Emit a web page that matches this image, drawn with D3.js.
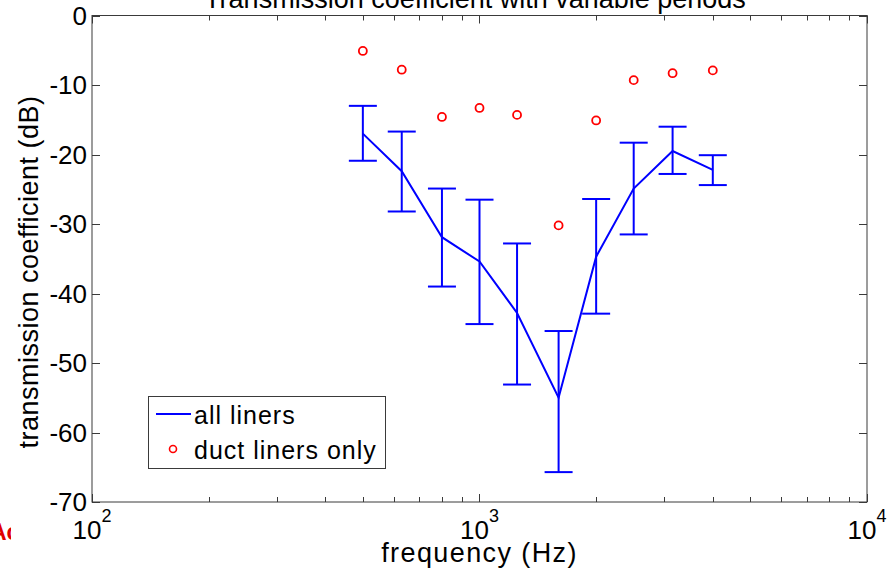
<!DOCTYPE html>
<html>
<head>
<meta charset="utf-8">
<script src="https://cdn.jsdelivr.net/npm/d3@7"></script>
<style>
  body { margin: 0; background: #fff; }
  svg { display: block; font-family: "Liberation Sans", Arial, sans-serif; }
</style>
</head>
<body>
<div id="chart"></div>
<script>
// one-third octave band centres (Hz)
const freqs = [500, 630, 800, 1000, 1250, 1600, 2000, 2500, 3150, 4000];
// all liners: mean and error bar ends (dB)
const allMean = [-17.0, -22.4, -31.9, -35.4, -42.8, -55.0, -34.7, -24.9, -19.5, -22.2];
const allHigh = [-13.0, -16.7, -24.9, -26.5, -32.8, -45.4, -26.4, -18.3, -16.0, -20.1];
const allLow  = [-20.9, -28.2, -39.0, -44.4, -53.1, -65.7, -42.9, -31.5, -22.8, -24.4];
// duct liners only
const ductOnly = [-5.1, -7.8, -14.6, -13.3, -14.3, -30.2, -15.1, -9.3, -8.3, -7.9];

const yTicks = [0, -10, -20, -30, -40, -50, -60, -70];
const xMajor = [100, 1000, 10000];

const W = 891, H = 572;
const margin = { top: 15.5, right: 24, bottom: 70, left: 92 };

const svg = d3.select("#chart").append("svg")
    .attr("width", W)
    .attr("height", H);

const x = d3.scaleLog()
    .domain([100, 10000])
    .range([margin.left, W - margin.right]);

const y = d3.scaleLinear()
    .domain([-70, 0])
    .range([H - margin.bottom, margin.top]);

const axisColor = "#3a3a3a";

// minor ticks on log axis
const xMinor = [];
[100, 1000].forEach(d => { for (let k = 2; k <= 9; k++) xMinor.push(d * k); });

const g = svg.append("g");

// box
g.append("rect")
    .attr("x", x(100)).attr("y", y(0))
    .attr("width", x(10000) - x(100)).attr("height", y(-70) - y(0))
    .attr("fill", "none").attr("stroke", axisColor).attr("stroke-width", 1);

// x ticks (inward, bottom and top)
const xt = g.append("g").attr("stroke", axisColor).attr("stroke-width", 1);
xMajor.concat(xMinor).forEach(d => {
    const len = xMajor.includes(d) ? 8 : 5;
    const px = Math.round(x(d)) + 0.5;
    xt.append("line").attr("x1", px).attr("x2", px).attr("y1", y(-70)).attr("y2", y(-70) - len);
    xt.append("line").attr("x1", px).attr("x2", px).attr("y1", y(0)).attr("y2", y(0) + len);
});

// y ticks (inward, left and right)
yTicks.forEach(d => {
    const py = Math.round(y(d)) + 0.5;
    xt.append("line").attr("x1", x(100)).attr("x2", x(100) + 8).attr("y1", py).attr("y2", py);
    xt.append("line").attr("x1", x(10000)).attr("x2", x(10000) - 8).attr("y1", py).attr("y2", py);
});

// y tick labels
g.append("g").selectAll("text")
    .data(yTicks)
    .join("text")
    .attr("x", x(100) - 5)
    .attr("y", d => y(d))
    .attr("dy", "0.36em")
    .attr("text-anchor", "end")
    .attr("font-size", 26)
    .text(d => d);

// x tick labels 10^n
const xl = g.append("g").selectAll("text")
    .data(xMajor)
    .join("text")
    .attr("x", d => x(d))
    .attr("y", 539)
    .attr("text-anchor", "middle")
    .attr("font-size", 26);
xl.append("tspan").text("10");
xl.append("tspan").attr("dy", -17).attr("font-size", 18).text(d => Math.round(Math.log10(d)));

// axis labels
svg.append("text")
    .attr("x", x(1000)).attr("y", 562)
    .attr("text-anchor", "middle")
    .attr("font-size", 27)
    .attr("letter-spacing", 1.4)
    .text("frequency (Hz)");

svg.append("text")
    .attr("transform", `translate(38,272) rotate(-90)`)
    .attr("text-anchor", "middle")
    .attr("font-size", 27)
    .attr("letter-spacing", 0.5)
    .text("transmission coefficient (dB)");

// title, partly above the page
svg.append("text")
    .attr("x", 475).attr("y", 8)
    .attr("text-anchor", "middle")
    .attr("font-size", 27)
    .text("Transmission coefficient with variable periods");

// stray red label at left edge
svg.append("clipPath").attr("id", "edge")
    .append("rect").attr("x", 0).attr("y", 500).attr("width", 11).attr("height", 60);
svg.append("text")
    .attr("clip-path", "url(#edge)")
    .attr("x", -10).attr("y", 540)
    .attr("font-size", 23).attr("font-weight", "bold")
    .attr("fill", "#e00000")
    .text("Ac");

const data = freqs.map((f, i) => ({ f, m: allMean[i], hi: allHigh[i], lo: allLow[i], d: ductOnly[i] }));

// error bars
const cap = 14;
const eb = g.append("g").attr("stroke", "#0000ff").attr("stroke-width", 2).attr("fill", "none");
data.forEach(d => {
    const cx = x(d.f);
    eb.append("line").attr("x1", cx).attr("x2", cx).attr("y1", y(d.hi)).attr("y2", y(d.lo));
    eb.append("line").attr("x1", cx - cap).attr("x2", cx + cap).attr("y1", y(d.hi)).attr("y2", y(d.hi));
    eb.append("line").attr("x1", cx - cap).attr("x2", cx + cap).attr("y1", y(d.lo)).attr("y2", y(d.lo));
});

const line = d3.line()
    .x(d => x(d.f))
    .y(d => y(d.m));

g.append("path")
    .datum(data)
    .attr("fill", "none")
    .attr("stroke", "#0000ff")
    .attr("stroke-width", 2)
    .attr("d", line);

// duct liners only circles
g.append("g").selectAll("circle")
    .data(data)
    .join("circle")
    .attr("cx", d => x(d.f))
    .attr("cy", d => y(d.d))
    .attr("r", 4)
    .attr("fill", "none")
    .attr("stroke", "#ff0000")
    .attr("stroke-width", 1.8);

// legend
const lg = svg.append("g");
lg.append("rect")
    .attr("x", 148.5).attr("y", 396.5)
    .attr("width", 237).attr("height", 72)
    .attr("fill", "#fff").attr("stroke", axisColor).attr("stroke-width", 1);
lg.append("line")
    .attr("x1", 156).attr("x2", 191).attr("y1", 414).attr("y2", 414)
    .attr("stroke", "#0000ff").attr("stroke-width", 2);
lg.append("text").attr("x", 194).attr("y", 424)
    .attr("font-size", 25).attr("letter-spacing", 1).text("all liners");
lg.append("circle")
    .attr("cx", 173).attr("cy", 449).attr("r", 3.5)
    .attr("fill", "none").attr("stroke", "#ff0000").attr("stroke-width", 1.6);
lg.append("text").attr("x", 194).attr("y", 459)
    .attr("font-size", 25).attr("letter-spacing", 1).text("duct liners only");
</script>
</body>
</html>
